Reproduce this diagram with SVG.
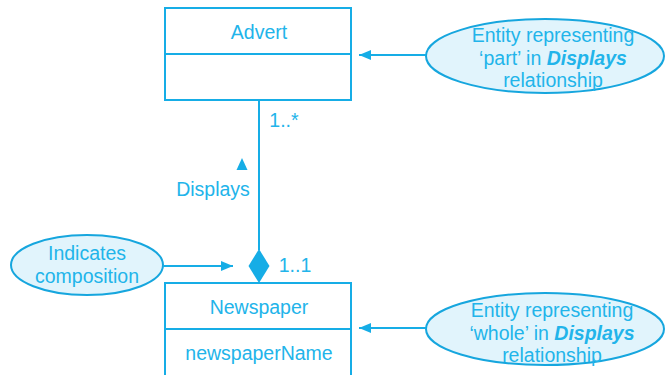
<svg xmlns="http://www.w3.org/2000/svg" width="666" height="375" viewBox="0 0 666 375">
<style>
.box{fill:#fff;stroke:#16ade6;stroke-width:2}
.ell{fill:#e1f4fc;stroke:#16a6de;stroke-width:2}
.ln{stroke:#16ade6;stroke-width:2;fill:none}
text{font-family:"Liberation Sans",Arial,sans-serif;font-size:19.5px;fill:#22b4ea;text-anchor:middle}
.b{font-weight:bold;font-style:italic}
</style>
<defs>
<marker id="ah" viewBox="0 0 12 10" refX="12" refY="5" markerWidth="12" markerHeight="10" markerUnits="userSpaceOnUse" orient="auto">
<path d="M0,0 L12,5 L0,10 Z" fill="#16ade6"/>
</marker>
</defs>
<g id="advert">
<rect class="box" x="165" y="8" width="186" height="92"/>
<line class="ln" x1="165" y1="54" x2="351" y2="54"/>
<text x="259" y="39">Advert</text>
</g>
<g id="newspaper">
<rect class="box" x="165" y="283" width="186" height="100"/>
<line class="ln" x1="165" y1="329" x2="351" y2="329"/>
<text x="259" y="314">Newspaper</text>
<text x="259" y="360">newspaperName</text>
</g>
<g id="note-part">
<ellipse class="ell" cx="545" cy="56" rx="119" ry="37"/>
<text x="553" y="42">Entity representing</text>
<text x="553" y="65">‘part’ in <tspan class="b">Displays</tspan></text>
<text x="553" y="87">relationship</text>
</g>
<g id="note-whole">
<ellipse class="ell" cx="545" cy="329" rx="119" ry="36"/>
<text x="552" y="317">Entity representing</text>
<text x="552" y="340">‘whole’ in <tspan class="b">Displays</tspan></text>
<text x="552" y="362">relationship</text>
</g>
<g id="note-composition">
<ellipse class="ell" cx="87" cy="265" rx="76" ry="30"/>
<text x="87" y="260">Indicates</text>
<text x="87" y="283">composition</text>
</g>
<g id="connectors">
<line class="ln" x1="259" y1="100" x2="259" y2="250"/>
<path d="M259,249 L269.5,266 L259,283 L248.5,266 Z" fill="#16ade6"/>
<path d="M242,158 L247.5,170 L236.5,170 Z" fill="#16ade6"/>
<text x="213" y="196">Displays</text>
<text x="284" y="127">1..*</text>
<text x="295" y="272">1..1</text>
<line class="ln" x1="163" y1="266" x2="233" y2="266" marker-end="url(#ah)"/>
<line class="ln" x1="426" y1="55" x2="359" y2="55" marker-end="url(#ah)"/>
<line class="ln" x1="426" y1="328" x2="359" y2="328" marker-end="url(#ah)"/>
</g>
</svg>
